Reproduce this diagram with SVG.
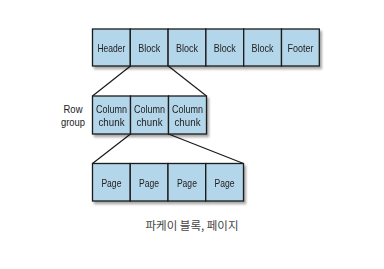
<svg xmlns="http://www.w3.org/2000/svg" width="384" height="269" viewBox="0 0 384 269">
<defs>
<filter id="sh" x="-10%" y="-20%" width="130%" height="160%">
<feDropShadow dx="2" dy="2.5" stdDeviation="1.3" flood-color="#000" flood-opacity="0.35"/>
</filter>
</defs>
<style>
.c{fill:#b4d6ea;stroke:#1a1a1a;stroke-width:1.3}
.t{font-family:"Liberation Sans",Arial,sans-serif;font-size:11.5px;fill:#222;text-anchor:middle}
.l{stroke:#1a1a1a;stroke-width:1.2;fill:none}
.cap{font-family:"Noto Sans CJK KR","Noto Sans",sans-serif;font-size:11.5px;fill:#444;text-anchor:middle}
</style>
<rect width="384" height="269" fill="#fff"/>
<g id="connectors">
<line class="l" x1="130.5" y1="66" x2="92.5" y2="96"/>
<line class="l" x1="168.3" y1="66" x2="206.5" y2="96"/>
<line class="l" x1="130.5" y1="134" x2="92.5" y2="163.5"/>
<line class="l" x1="168.5" y1="134" x2="243.5" y2="163.5"/>
</g>
<g id="file" filter="url(#sh)">
<g id="header"><rect class="c" x="92.5" y="29" width="37.8" height="37"/><text class="t" x="111.4" y="51.5" textLength="28" lengthAdjust="spacingAndGlyphs">Header</text></g>
<g id="block1"><rect class="c" x="130.3" y="29" width="37.8" height="37"/><text class="t" x="149.2" y="51.5" textLength="22" lengthAdjust="spacingAndGlyphs">Block</text></g>
<g id="block2"><rect class="c" x="168.1" y="29" width="37.8" height="37"/><text class="t" x="187" y="51.5" textLength="22" lengthAdjust="spacingAndGlyphs">Block</text></g>
<g id="block3"><rect class="c" x="205.9" y="29" width="37.8" height="37"/><text class="t" x="224.8" y="51.5" textLength="22" lengthAdjust="spacingAndGlyphs">Block</text></g>
<g id="block4"><rect class="c" x="243.7" y="29" width="37.8" height="37"/><text class="t" x="262.6" y="51.5" textLength="22" lengthAdjust="spacingAndGlyphs">Block</text></g>
<g id="footer"><rect class="c" x="281.5" y="29" width="37.8" height="37"/><text class="t" x="300.4" y="51.5" textLength="26" lengthAdjust="spacingAndGlyphs">Footer</text></g>
</g>
<g id="rowgroup-label"><text class="t" x="73" y="113" textLength="19" lengthAdjust="spacingAndGlyphs">Row</text><text class="t" x="73" y="126" textLength="24" lengthAdjust="spacingAndGlyphs">group</text></g>
<g id="rowgroup" filter="url(#sh)">
<g id="chunk1"><rect class="c" x="92.5" y="96" width="38" height="38"/><text class="t" x="111.5" y="113" textLength="31" lengthAdjust="spacingAndGlyphs">Column</text><text class="t" x="111.5" y="126" textLength="26" lengthAdjust="spacingAndGlyphs">chunk</text></g>
<g id="chunk2"><rect class="c" x="130.5" y="96" width="38" height="38"/><text class="t" x="149.5" y="113" textLength="31" lengthAdjust="spacingAndGlyphs">Column</text><text class="t" x="149.5" y="126" textLength="26" lengthAdjust="spacingAndGlyphs">chunk</text></g>
<g id="chunk3"><rect class="c" x="168.5" y="96" width="38" height="38"/><text class="t" x="187.5" y="113" textLength="31" lengthAdjust="spacingAndGlyphs">Column</text><text class="t" x="187.5" y="126" textLength="26" lengthAdjust="spacingAndGlyphs">chunk</text></g>
</g>
<g id="pages" filter="url(#sh)">
<g id="page1"><rect class="c" x="92.5" y="163.5" width="37.75" height="37.5"/><text class="t" x="111.4" y="186.5" textLength="20" lengthAdjust="spacingAndGlyphs">Page</text></g>
<g id="page2"><rect class="c" x="130.25" y="163.5" width="37.75" height="37.5"/><text class="t" x="149.1" y="186.5" textLength="20" lengthAdjust="spacingAndGlyphs">Page</text></g>
<g id="page3"><rect class="c" x="168" y="163.5" width="37.75" height="37.5"/><text class="t" x="186.9" y="186.5" textLength="20" lengthAdjust="spacingAndGlyphs">Page</text></g>
<g id="page4"><rect class="c" x="205.75" y="163.5" width="37.75" height="37.5"/><text class="t" x="224.6" y="186.5" textLength="20" lengthAdjust="spacingAndGlyphs">Page</text></g>
</g>
<text class="cap" x="192" y="229.5">파케이 블록, 페이지</text>
</svg>
